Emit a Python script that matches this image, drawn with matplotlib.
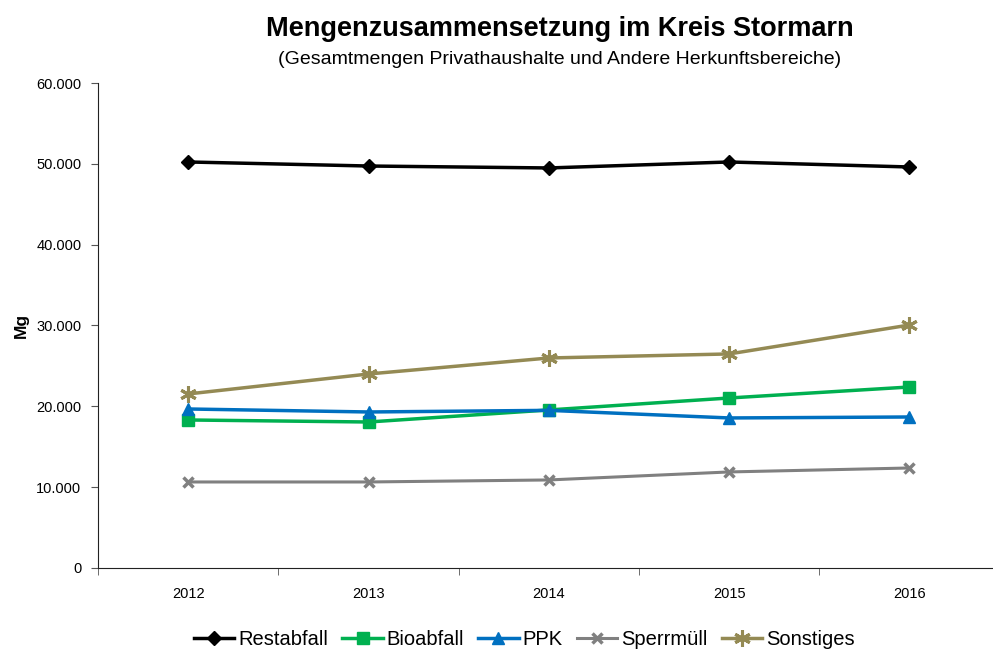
import matplotlib
matplotlib.use("Agg")
import matplotlib.pyplot as plt
from matplotlib.ticker import FuncFormatter

years = ["2012", "2013", "2014", "2015", "2016"]
restabfall = [50230, 49730, 49490, 50230, 49610]
bioabfall = [18310, 18060, 19550, 21030, 22390]
ppk = [19670, 19300, 19500, 18560, 18680]
sperrmuell = [10640, 10640, 10890, 11880, 12370]
sonstiges = [21530, 24000, 25980, 26480, 30060]

plt.rcParams['font.family'] = ['Liberation Sans', 'DejaVu Sans']

fig = plt.figure(figsize=(9.93, 6.5), dpi=100)
ax = fig.add_axes([0.0987, 0.1262, 0.908, 0.7461])

x = list(range(len(years)))
ax.plot(x, restabfall, color='black', lw=2.5, marker='D', ms=7.5, label='Restabfall')
ax.plot(x, bioabfall, color='#00B050', lw=2.5, marker='s', ms=8.5, label='Bioabfall')
ax.plot(x, ppk, color='#0070C0', lw=2.5, marker='^', ms=9, label='PPK')
ax.plot(x, sperrmuell, color='#808080', lw=2.2, marker='x', ms=7, mew=2.5, label='Sperrmüll')
ax.plot(x, sonstiges, color='#948A54', lw=2.5, marker=(6, 2, 0), ms=12, mew=2.2, label='Sonstiges')

ax.set_xlim(-0.5, len(years) - 0.5)
ax.set_ylim(0, 60000)
ax.set_yticks(range(0, 60001, 10000))
ax.yaxis.set_major_formatter(FuncFormatter(lambda v, p: '0' if v == 0 else f"{int(v):,}".replace(',', '.')))
ax.set_xticks(x)
ax.set_xticklabels(years)
ax.set_xticks([i - 0.5 for i in range(len(years) + 1)], minor=True)
ax.tick_params(axis='x', which='major', length=0, pad=14, labelsize=10.5)
ax.tick_params(axis='x', which='minor', length=5, direction='out', color='#555555')
ax.tick_params(axis='y', length=5, direction='out', labelsize=10.5, color='#555555', pad=7)
for side in ['top', 'right']:
    ax.spines[side].set_visible(False)
ax.spines['left'].set_color('#222222')
ax.spines['bottom'].set_color('#222222')

ax.set_ylabel('Mg', fontsize=12.5, fontweight='bold', labelpad=5)

fig.text(0.564, 0.955, 'Mengenzusammensetzung im Kreis Stormarn', ha='center', va='center',
         fontsize=19.5, fontweight='bold')
fig.text(0.564, 0.909, '(Gesamtmengen Privathaushalte und Andere Herkunftsbereiche)', ha='center',
         va='center', fontsize=14)

fig.legend(loc='center', bbox_to_anchor=(0.528, 0.016), ncol=5, frameon=False, fontsize=14.5,
           handlelength=2.0, handletextpad=0.2, columnspacing=0.7)

fig.savefig('out.png', dpi=100)
